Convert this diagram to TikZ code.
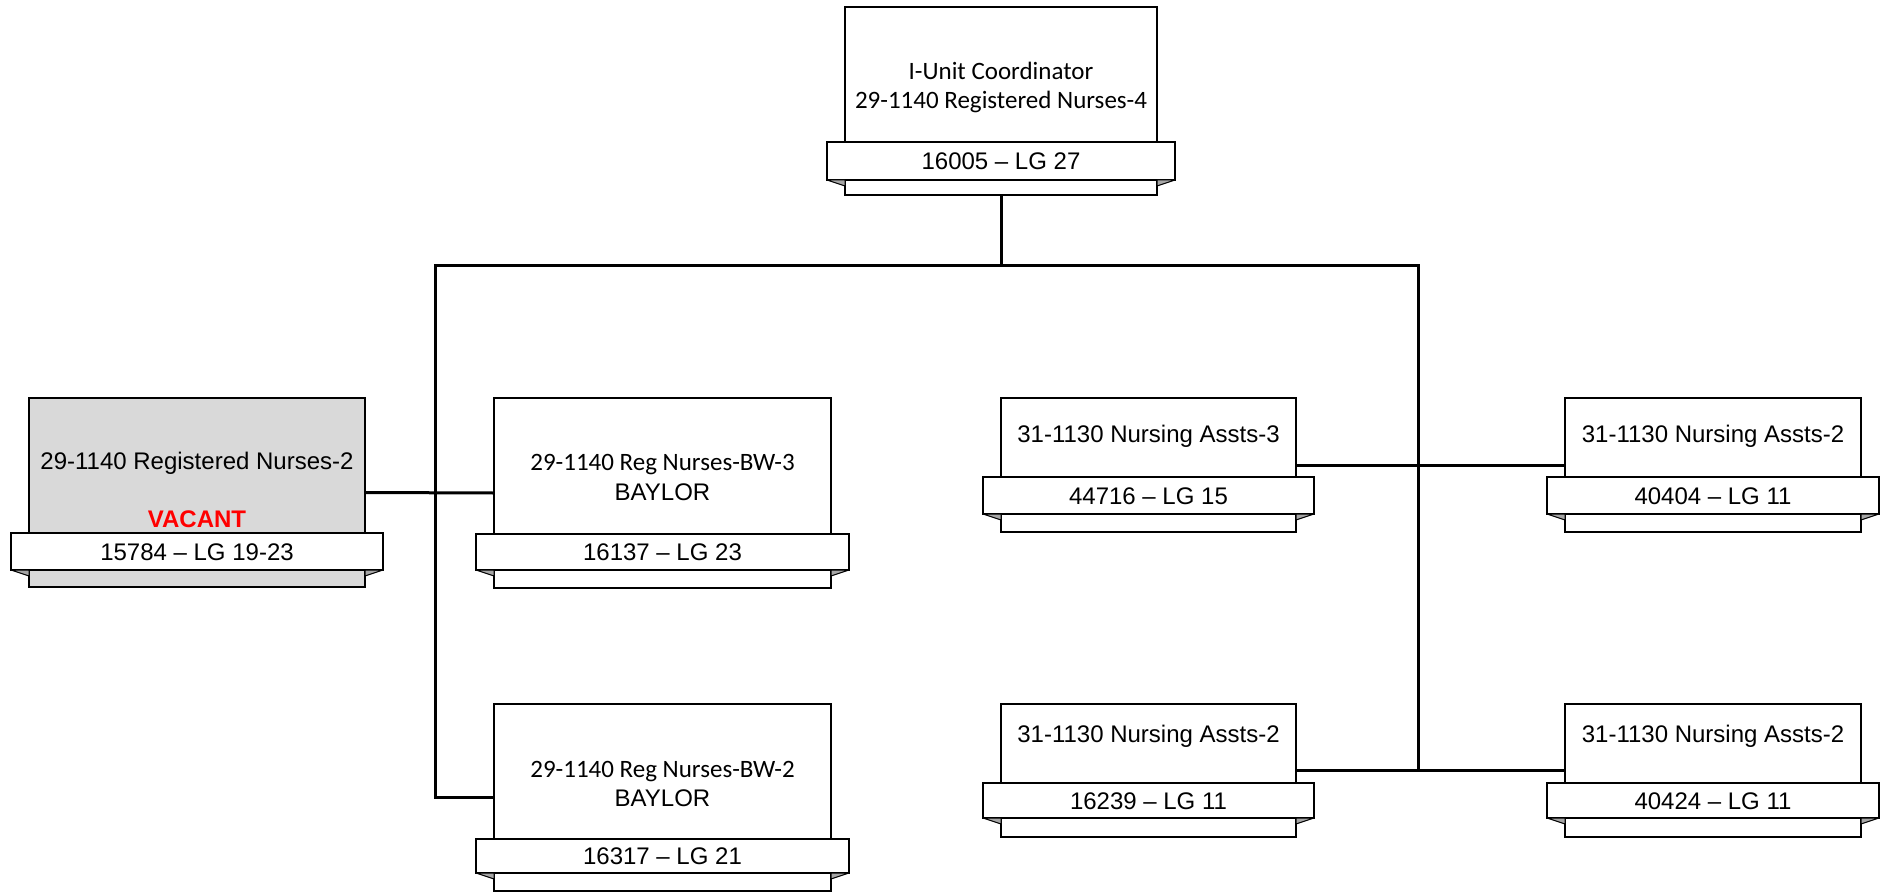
\documentclass[tikz,border=0pt]{standalone}
\usepackage{fontspec}
\newfontfamily\calibrifont{Carlito}
\newfontfamily\arialfont{Liberation Sans}
\usetikzlibrary{fit}
\definecolor{vacgray}{HTML}{D9D9D9}
\definecolor{foldgray}{HTML}{A6A6A6}
\definecolor{vacred}{HTML}{FF0000}
\tikzset{
  obox/.style={draw=black, line width=2pt, inner sep=0pt},
  ribbon/.style={draw=black, fill=white, line width=2pt, inner sep=0pt},
  fold/.style={draw=black, fill=foldgray, line width=1pt, line join=round},
  rtext/.style={inner sep=0pt, text height=17pt, text depth=0pt, font=\arialfont\fontsize{24}{28}\selectfont},
  ctext/.style={inner sep=0pt, anchor=base, font=\calibrifont\fontsize{25}{30}\selectfont},
  atext/.style={inner sep=0pt, anchor=base, font=\arialfont\fontsize{24}{28}\selectfont},
  vtext/.style={inner sep=0pt, anchor=base, text=vacred, font=\arialfont\bfseries\fontsize{24}{28}\selectfont},
  conn/.style={draw=black, line width=3pt},
}
% #1 name, #2 L, #3 T, #4 R, #5 B, #6 ribbon top, #7 ribbon bottom, #8 fill, #9 ribbon text
\newcommand\OrgBox[9]{%
  \node[obox, fill=#8, fit={(#2,#3) (#4,#5)}] (#1) {};
  \node[ribbon, fit={(#2-18,#6) (#4+18,#7)}] (#1-r) {};
  \node[rtext] (#1-t) at (#1-r.center) {#9};
  \path[fold] (#2-18,#7) -- (#2,#7+6) -- (#2,#7) -- cycle;
  \path[fold] (#4+18,#7) -- (#4,#7+6) -- (#4,#7) -- cycle;
}
\begin{document}
\begin{tikzpicture}[x=1pt, y=-1pt]
\useasboundingbox (0,0) rectangle (1883,893);

% boxes
\OrgBox{top}{845}{7}{1157}{195}{142}{180}{white}{16005 – LG 27}
\OrgBox{a}{29}{398}{365}{587}{533}{570}{vacgray}{15784 – LG 19-23}
\OrgBox{b}{494}{398}{831}{588}{534}{570}{white}{16137 – LG 23}
\OrgBox{c}{494}{704}{831}{891}{839}{873}{white}{16317 – LG 21}
\OrgBox{d}{1001}{398}{1296}{532}{477}{514}{white}{44716 – LG 15}
\OrgBox{e}{1565}{398}{1861}{532}{477}{514}{white}{40404 – LG 11}
\OrgBox{f}{1001}{704}{1296}{837}{783}{818}{white}{16239 – LG 11}
\OrgBox{g}{1565}{704}{1861}{837}{783}{818}{white}{40424 – LG 11}

% texts
\node[ctext] (top-l1) at (1001,80) {I-Unit Coordinator};
\node[ctext] (top-l2) at (1001,109) {29-1140 Registered Nurses-4};
\node[atext] (a-l1) at (197,469) {29-1140 Registered Nurses-2};
\node[vtext] (a-l2) at (197,527) {VACANT};
\node[ctext] (b-l1) at (662.5,470) {29-1140 Reg Nurses-BW-3};
\node[atext] (b-l2) at (662.5,500) {BAYLOR};
\node[ctext] (c-l1) at (662.5,777) {29-1140 Reg Nurses-BW-2};
\node[atext] (c-l2) at (662.5,806) {BAYLOR};
\node[atext] (d-l1) at (1148.5,442) {31-1130 Nursing Assts-3};
\node[atext] (e-l1) at (1713,442) {31-1130 Nursing Assts-2};
\node[atext] (f-l1) at (1148.5,742) {31-1130 Nursing Assts-2};
\node[atext] (g-l1) at (1713,742) {31-1130 Nursing Assts-2};

% connectors
\coordinate (busL) at (435,266);
\coordinate (busR) at (1418,266);
\path[conn] (top.south) -- (top.south |- busL);
\path[conn, line cap=rect] (busL) -- (busR);
\path[conn] (busL) |- (c.west);
\path[conn] (busR) -- (busR |- f.east);
\path[conn] (a.east) -- (b.west);
\path[conn] (d.east) -- (e.west);
\path[conn] (f.east) -- (g.west);
\end{tikzpicture}
\end{document}
